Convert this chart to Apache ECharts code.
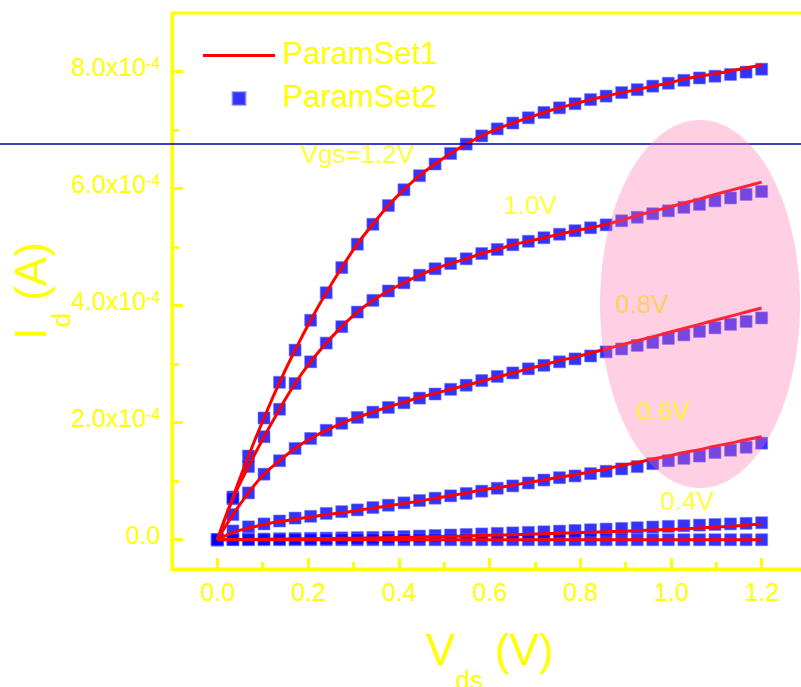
<!DOCTYPE html>
<html><head><meta charset="utf-8">
<script src="https://cdn.jsdelivr.net/npm/echarts@6/dist/echarts.min.js"></script>
<style>html,body{margin:0;padding:0;background:#fff}#c{width:801px;height:687px}</style>
</head><body><div id="c"></div>
<script>
// Vds sweep (V)
const vds = [0, 0.0343, 0.0686, 0.1029, 0.1371, 0.1714, 0.2057, 0.24, 0.2743, 0.3086, 0.3429, 0.3771,
  0.4114, 0.4457, 0.48, 0.5143, 0.5486, 0.5829, 0.6171, 0.6514, 0.6857, 0.72, 0.7543, 0.7886,
  0.8229, 0.8571, 0.8914, 0.9257, 0.96, 0.9943, 1.0286, 1.0629, 1.0971, 1.1314, 1.1657, 1.2];

// ParamSet2 markers, Id in units of 1e-4 A
const set2_12 = [0, 0.73, 1.43, 2.08, 2.69, 3.24, 3.75, 4.22, 4.65, 5.05, 5.39, 5.71, 5.98, 6.22, 6.42, 6.60, 6.76, 6.90,
  7.02, 7.12, 7.21, 7.30, 7.38, 7.45, 7.52, 7.58, 7.64, 7.69, 7.75, 7.80, 7.85, 7.89, 7.92, 7.95, 7.99, 8.04];
const set2_10 = [0, 0.70, 1.25, 1.76, 2.23, 2.67, 3.04, 3.36, 3.64, 3.89, 4.09, 4.25, 4.39, 4.52, 4.63, 4.72, 4.80, 4.89,
  4.96, 5.04, 5.10, 5.16, 5.22, 5.28, 5.33, 5.38, 5.45, 5.51, 5.57, 5.62, 5.68, 5.73, 5.79, 5.84, 5.90, 5.95];
const set2_08 = [0, 0.43, 0.80, 1.12, 1.35, 1.56, 1.73, 1.87, 1.99, 2.09, 2.18, 2.26, 2.34, 2.42, 2.49, 2.57, 2.64, 2.72,
  2.79, 2.85, 2.92, 2.98, 3.04, 3.09, 3.14, 3.21, 3.26, 3.32, 3.37, 3.44, 3.50, 3.56, 3.62, 3.68, 3.73, 3.79];
const set2_06 = [0, 0.15, 0.22, 0.27, 0.32, 0.37, 0.40, 0.45, 0.48, 0.51, 0.55, 0.59, 0.63, 0.67, 0.71, 0.75, 0.79, 0.83,
  0.88, 0.92, 0.97, 1.02, 1.06, 1.09, 1.13, 1.17, 1.21, 1.25, 1.30, 1.35, 1.39, 1.43, 1.49, 1.53, 1.58, 1.65];
const set2_04 = [0, 0.005, 0.01, 0.013, 0.017, 0.02, 0.024, 0.028, 0.032, 0.036, 0.04, 0.045, 0.054, 0.063, 0.072, 0.081, 0.09, 0.099,
  0.108, 0.117, 0.126, 0.135, 0.147, 0.158, 0.17, 0.182, 0.193, 0.205, 0.217, 0.228, 0.239, 0.25, 0.26, 0.27, 0.28, 0.29];
const set2_02 = [0, 0, 0, 0, 0, 0, 0, 0, 0, 0, 0, 0, 0, 0, 0, 0, 0, 0,
  0, 0, 0, 0, 0, 0, 0, 0, 0, 0, 0, 0, 0, 0, 0, 0, 0, 0];

// ParamSet1 curves, Id in units of 1e-4 A
const set1_12 = [0, 0.73, 1.43, 2.08, 2.69, 3.24, 3.75, 4.22, 4.65, 5.05, 5.39, 5.71, 5.98, 6.22, 6.42, 6.60, 6.76, 6.90,
  7.02, 7.12, 7.21, 7.30, 7.38, 7.45, 7.52, 7.58, 7.64, 7.69, 7.75, 7.80, 7.87, 7.92, 7.96, 8.01, 8.06, 8.11];
const set1_10 = [0, 0.70, 1.25, 1.76, 2.23, 2.67, 3.04, 3.36, 3.64, 3.89, 4.09, 4.25, 4.39, 4.52, 4.63, 4.72, 4.80, 4.89,
  4.96, 5.04, 5.10, 5.16, 5.22, 5.28, 5.33, 5.39, 5.46, 5.54, 5.61, 5.68, 5.75, 5.82, 5.90, 5.97, 6.04, 6.11];
const set1_08 = [0, 0.43, 0.80, 1.12, 1.35, 1.56, 1.73, 1.87, 1.99, 2.09, 2.18, 2.27, 2.35, 2.43, 2.50, 2.57, 2.64, 2.71,
  2.78, 2.85, 2.92, 2.99, 3.06, 3.12, 3.19, 3.26, 3.33, 3.40, 3.47, 3.54, 3.61, 3.68, 3.75, 3.82, 3.89, 3.96];
const set1_06 = [0, 0.12, 0.20, 0.26, 0.31, 0.35, 0.39, 0.43, 0.46, 0.50, 0.54, 0.58, 0.62, 0.66, 0.71, 0.75, 0.80, 0.85,
  0.89, 0.93, 0.98, 1.02, 1.07, 1.11, 1.16, 1.21, 1.27, 1.32, 1.38, 1.43, 1.49, 1.54, 1.60, 1.65, 1.71, 1.76];
const set1_04 = [0, 0.003, 0.006, 0.009, 0.012, 0.015, 0.018, 0.021, 0.024, 0.027, 0.03, 0.035, 0.04, 0.046, 0.052, 0.058, 0.065, 0.072,
  0.079, 0.086, 0.094, 0.102, 0.11, 0.118, 0.127, 0.136, 0.145, 0.155, 0.165, 0.175, 0.186, 0.20, 0.215, 0.232, 0.25, 0.27];
const set1_02 = [0, 0, 0, 0, 0, 0, 0, 0, 0, 0, 0, 0, 0, 0, 0, 0, 0, 0,
  0, 0, 0, 0, 0, 0, 0, 0, 0, 0, 0, 0, 0, 0, 0, 0, 0, 0];

// Tick values
const xMajorTicks = [0, 0.2, 0.4, 0.6, 0.8, 1.0, 1.2];
const xMinorTicks = [0.1, 0.3, 0.5, 0.7, 0.9, 1.1];
const yMajorTicks = [0, 2, 4, 6, 8];
const yMinorTicks = [1, 3, 5, 7];

// Curve annotations (Vds, Id in 1e-4 A)
const annBelowText = ['Vgs=1.2V', '1.0V', '0.8V', '0.4V'];
const annBelowX = [0.308, 0.689, 0.935, 1.035];
const annBelowY = [6.56, 5.68, 3.99, 0.63];
const annAboveText = ['0.6V'];
const annAboveX = [0.982];
const annAboveY = [2.17];

const YEL = '#ffff00';
const FONT = '"Liberation Sans", Arial, sans-serif';

const set2 = [set2_12, set2_10, set2_08, set2_06, set2_04, set2_02];
const set1 = [set1_12, set1_10, set1_08, set1_06, set1_04, set1_02];
const zip = a => vds.map((x, i) => [x, a[i]]);

const series = [];
set2.forEach(a => series.push({
  name: 'ParamSet2', type: 'scatter', data: zip(a), symbol: 'rect', symbolSize: 12,
  itemStyle: { color: '#0000ff', borderColor: 'rgba(110,110,255,0.7)', borderWidth: 1 }, z: 2, silent: true
}));
set1.forEach(a => series.push({
  name: 'ParamSet1', type: 'line', data: zip(a), symbol: 'none', showSymbol: false, smooth: true,
  lineStyle: { color: '#ff0000', width: 3 }, itemStyle: { color: '#ff0000' }, z: 3, silent: true
}));
function annSeries(txt, xs, ys, z) {
  return {
    name: 'ann' + z, type: 'scatter', symbolSize: 1, itemStyle: { color: 'rgba(0,0,0,0)' }, z: z, silent: true,
    data: txt.map((t, i) => ({ name: t, value: [xs[i], ys[i]] })),
    label: { show: true, position: 'inside', formatter: p => p.name, color: YEL, fontSize: 26, fontFamily: FONT }
  };
}
series.push(annSeries(annBelowText, annBelowX, annBelowY, 4));
series.push(annSeries(annAboveText, annAboveX, annAboveY, 20));

const chart = echarts.init(document.getElementById('c'), null, { renderer: 'canvas' });
chart.setOption({
  backgroundColor: '#ffffff',
  animation: false,
  textStyle: { fontFamily: FONT },
  grid: { left: 172, top: 13, right: -6, bottom: 118, containLabel: false, outerBoundsMode: 'none',
    show: true, borderColor: YEL, borderWidth: 3, backgroundColor: 'rgba(0,0,0,0)' },
  legend: {
    data: [
      { name: 'ParamSet1', icon: 'path://M0,0 L72,0 L72,3 L0,3 Z', itemStyle: { color: '#ff0000' } },
      { name: 'ParamSet2', icon: 'path://M0,0 L13,0 L13,13 L0,13 Z', itemStyle: { color: '#0000ff' } }
    ],
    orient: 'vertical', left: 203, top: 40, padding: 0,
    itemWidth: 72, itemHeight: 13, itemGap: 12, selectedMode: false,
    textStyle: { color: YEL, fontSize: 31, fontFamily: FONT, lineHeight: 30, padding: [0, 0, 0, 2] }
  },
  xAxis: [{
    type: 'value', min: -0.1, max: 1.3,
    axisLine: { show: true, onZero: false, lineStyle: { color: YEL, width: 3 } },
    axisTick: { show: true, inside: true, length: 11, customValues: xMajorTicks, lineStyle: { color: YEL, width: 3 } },
    axisLabel: { show: true, customValues: xMajorTicks, margin: 13, color: YEL, fontSize: 25, fontFamily: FONT,
      formatter: v => v.toFixed(1) },
    splitLine: { show: false },
    name: '{v|V}{s|ds}{v| (V)}', nameLocation: 'middle', nameGap: 62,
    nameTextStyle: { color: YEL, fontFamily: FONT, rich: {
      v: { fontSize: 44, lineHeight: 44, color: YEL, verticalAlign: 'top', fontFamily: FONT },
      s: { fontSize: 26, lineHeight: 26, color: YEL, verticalAlign: 'top', padding: [38, 0, 0, 0], fontFamily: FONT } } }
  }, {
    type: 'value', min: -0.1, max: 1.3, position: 'bottom',
    axisLine: { show: false, onZero: false },
    axisTick: { show: true, inside: true, length: 7, customValues: xMinorTicks, lineStyle: { color: YEL, width: 3 } },
    axisLabel: { show: false }, splitLine: { show: false }
  }],
  yAxis: [{
    type: 'value', min: -0.5, max: 9,
    axisLine: { show: true, onZero: false, lineStyle: { color: YEL, width: 3 } },
    axisTick: { show: true, inside: true, length: 11, customValues: yMajorTicks, lineStyle: { color: YEL, width: 3 } },
    axisLabel: { show: true, customValues: yMajorTicks, margin: 12, color: YEL,
      formatter: v => v === 0 ? '{m|0.0}' : '{m|' + v.toFixed(1) + 'x10}{s|-4}',
      rich: {
        m: { fontSize: 25, lineHeight: 30, color: YEL, fontFamily: FONT, verticalAlign: 'top' },
        s: { fontSize: 16, lineHeight: 16, color: YEL, fontFamily: FONT, verticalAlign: 'top' }
      } },
    splitLine: { show: false },
    name: '{v|I}{s|d}{v| (A)}', nameLocation: 'middle', nameGap: 116, nameRotate: 90, nameMoveOverlap: false,
    nameTextStyle: { color: YEL, fontFamily: FONT, rich: {
      v: { fontSize: 44, lineHeight: 44, color: YEL, verticalAlign: 'top', fontFamily: FONT },
      s: { fontSize: 26, lineHeight: 26, color: YEL, verticalAlign: 'top', padding: [38, 0, 0, 0], fontFamily: FONT } } }
  }, {
    type: 'value', min: -0.5, max: 9, position: 'left',
    axisLine: { show: false, onZero: false },
    axisTick: { show: true, inside: true, length: 7, customValues: yMinorTicks, lineStyle: { color: YEL, width: 3 } },
    axisLabel: { show: false }, splitLine: { show: false }
  }],
  graphic: [
    { type: 'line', z: 5, silent: true, shape: { x1: 0, y1: 144, x2: 801, y2: 144 }, style: { stroke: '#0000b4', lineWidth: 1.5 } },
    { type: 'ellipse', z: 10, silent: true, shape: { cx: 700, cy: 304, rx: 100, ry: 184 }, style: { fill: 'rgba(255,110,170,0.33)' } }
  ],
  series: series
});
</script>
</body></html>
